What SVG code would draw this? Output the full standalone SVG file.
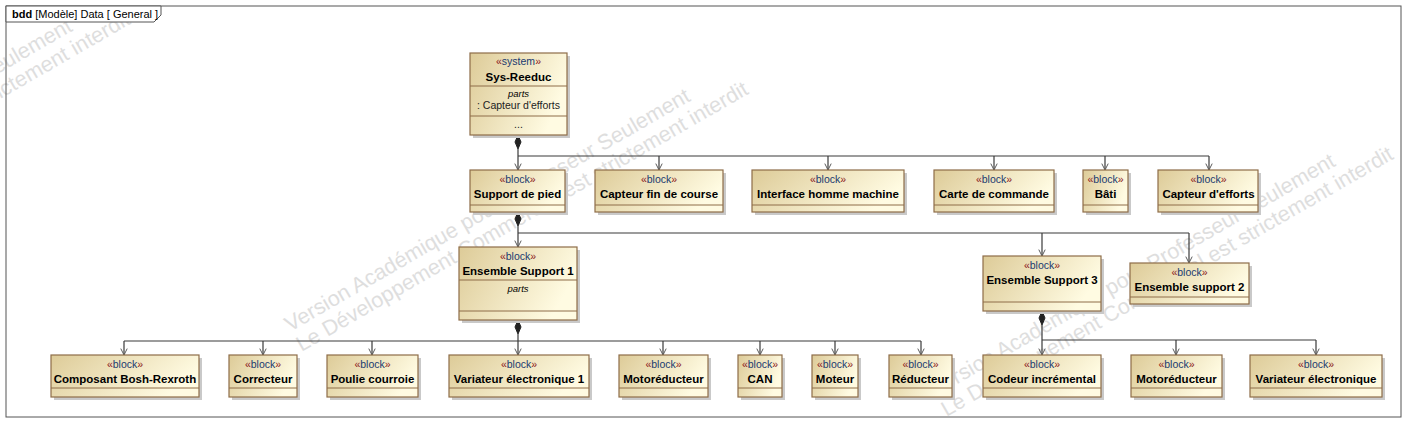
<svg xmlns="http://www.w3.org/2000/svg" width="1416" height="432" viewBox="0 0 1416 432">
<defs>
<linearGradient id="bg" x1="0" y1="0" x2="1" y2="0.35">
<stop offset="0" stop-color="#DDCB98"/>
<stop offset="1" stop-color="#FFFBE2"/>
</linearGradient>
<marker id="arr" viewBox="0 0 10 10" refX="9" refY="5" markerWidth="8" markerHeight="8" markerUnits="userSpaceOnUse" orient="auto">
<path d="M1,1 L9,5 L1,9" fill="none" stroke="#555" stroke-width="1.2"/>
</marker>
</defs>
<style>
text{font-family:"Liberation Sans",Arial,sans-serif;}
.wm{font-size:21.5px;fill:#dedede;}
.sh{fill:#c9c9c9;}
.bx{fill:url(#bg);stroke:#8E6D48;stroke-width:1.2;}
.sep{stroke:#8E6D48;stroke-width:1;}
.st{font-size:10.5px;text-anchor:middle;fill:#1a3a70;}
.gu{fill:#8B1A1A;}
.nm{font-size:11.5px;font-weight:bold;text-anchor:middle;fill:#000;}
.it{font-size:9.5px;font-style:italic;text-anchor:middle;fill:#000;}
.pt{font-size:10.5px;text-anchor:middle;fill:#222;}
.ln{fill:none;stroke:#3a3a3a;stroke-width:1.2;}
.ar{fill:none;stroke:#3a3a3a;stroke-width:1.2;marker-end:url(#arr);}
.dm{fill:#222;stroke:#222;stroke-width:1;}
</style>
<rect x="0" y="0" width="1416" height="432" fill="#fff"/>
<!-- watermarks -->
<g id="watermarks">
<g transform="translate(-328,262) rotate(-30)"><text class="wm" x="0" y="0">Version Académique pour Professeur Seulement</text><text class="wm" x="0" y="23">Le Développement Commercial est strictement interdit</text></g>
<g transform="translate(290,332) rotate(-30)"><text class="wm" x="0" y="0">Version Académique pour Professeur Seulement</text><text class="wm" x="0" y="23">Le Développement Commercial est strictement interdit</text></g>
<g transform="translate(935,397) rotate(-30)"><text class="wm" x="0" y="0">Version Académique pour Professeur Seulement</text><text class="wm" x="0" y="23">Le Développement Commercial est strictement interdit</text></g>
</g>
<!-- frame -->
<g id="frame">
<rect x="6" y="6" width="1395" height="411" fill="none" stroke="#555" stroke-width="1"/>
<path d="M6,6 L6,22 L154,22 L161,15 L161,6 Z" fill="#fff" stroke="#555" stroke-width="1"/>
<text x="12" y="18" font-size="11px" fill="#000"><tspan font-weight="bold">bdd</tspan> [Modèle] Data [ General ]</text>
</g>
<!-- connectors -->
<g id="connectors">
<path class="dm" d="M518,135 L521,142 L518,149 L515,142 Z"/>
<path class="ar" d="M518,149 L518,170"/>
<path class="ln" d="M518,156 L1209,156"/>
<path class="ar" d="M659,156 L659,170"/>
<path class="ar" d="M828,156 L828,170"/>
<path class="ar" d="M994,156 L994,170"/>
<path class="ar" d="M1105,156 L1105,170"/>
<path class="ar" d="M1209,156 L1209,170"/>
<path class="dm" d="M518,212 L521,219 L518,226 L515,219 Z"/>
<path class="ar" d="M518,226 L518,247"/>
<path class="ln" d="M518,233 L1189,233"/>
<path class="ar" d="M1042,233 L1042,256"/>
<path class="ar" d="M1189,233 L1189,263"/>
<path class="dm" d="M518,320 L521,327 L518,334 L515,327 Z"/>
<path class="ar" d="M518,334 L518,355"/>
<path class="ln" d="M124,341 L921,341"/>
<path class="ar" d="M124,341 L124,355"/>
<path class="ar" d="M263,341 L263,355"/>
<path class="ar" d="M372,341 L372,355"/>
<path class="ar" d="M663,341 L663,355"/>
<path class="ar" d="M760,341 L760,355"/>
<path class="ar" d="M835,341 L835,355"/>
<path class="ar" d="M921,341 L921,355"/>
<path class="dm" d="M1042,311 L1045,318 L1042,325 L1039,318 Z"/>
<path class="ar" d="M1042,325 L1042,355"/>
<path class="ln" d="M1042,340 L1316,340"/>
<path class="ar" d="M1176,340 L1176,355"/>
<path class="ar" d="M1316,340 L1316,355"/>
</g>
<!-- Sys-Reeduc -->
<g id="sys-reeduc">
<rect class="sh" x="473" y="56" width="97" height="82"/>
<rect class="bx" x="470" y="53" width="97" height="82"/>
<line class="sep" x1="470" y1="86" x2="567" y2="86"/>
<line class="sep" x1="470" y1="116" x2="567" y2="116"/>
<text class="st" x="518.5" y="65"><tspan class="gu">«</tspan>system<tspan class="gu">»</tspan></text>
<text class="nm" x="518.5" y="81">Sys-Reeduc</text>
<text class="it" x="518.5" y="97">parts</text>
<text class="pt" x="518.5" y="109">: Capteur d'efforts</text>
<text class="pt" x="518.5" y="128">...</text>
</g>
<!-- Row 2 -->
<g id="support-de-pied">
<rect class="sh" x="473" y="173" width="95" height="42"/>
<rect class="bx" x="470" y="170" width="95" height="42"/>
<line class="sep" x1="470" y1="205" x2="565" y2="205"/>
<text class="st" x="517.5" y="183"><tspan class="gu">«</tspan>block<tspan class="gu">»</tspan></text>
<text class="nm" x="517.5" y="198">Support de pied</text>
</g>
<g id="capteur-fin-de-course">
<rect class="sh" x="598" y="173" width="128" height="42"/>
<rect class="bx" x="595" y="170" width="128" height="42"/>
<line class="sep" x1="595" y1="205" x2="723" y2="205"/>
<text class="st" x="659" y="183"><tspan class="gu">«</tspan>block<tspan class="gu">»</tspan></text>
<text class="nm" x="659" y="198">Capteur fin de course</text>
</g>
<g id="interface-homme-machine">
<rect class="sh" x="755" y="173" width="152" height="42"/>
<rect class="bx" x="752" y="170" width="152" height="42"/>
<line class="sep" x1="752" y1="205" x2="904" y2="205"/>
<text class="st" x="828" y="183"><tspan class="gu">«</tspan>block<tspan class="gu">»</tspan></text>
<text class="nm" x="828" y="198">Interface homme machine</text>
</g>
<g id="carte-de-commande">
<rect class="sh" x="937" y="173" width="120" height="42"/>
<rect class="bx" x="934" y="170" width="120" height="42"/>
<line class="sep" x1="934" y1="205" x2="1054" y2="205"/>
<text class="st" x="994" y="183"><tspan class="gu">«</tspan>block<tspan class="gu">»</tspan></text>
<text class="nm" x="994" y="198">Carte de commande</text>
</g>
<g id="bati">
<rect class="sh" x="1086" y="173" width="45" height="42"/>
<rect class="bx" x="1083" y="170" width="45" height="42"/>
<line class="sep" x1="1083" y1="205" x2="1128" y2="205"/>
<text class="st" x="1105.5" y="183"><tspan class="gu">«</tspan>block<tspan class="gu">»</tspan></text>
<text class="nm" x="1105.5" y="198">Bâti</text>
</g>
<g id="capteur-d-efforts">
<rect class="sh" x="1161" y="173" width="100" height="42"/>
<rect class="bx" x="1158" y="170" width="100" height="42"/>
<line class="sep" x1="1158" y1="205" x2="1258" y2="205"/>
<text class="st" x="1208.5" y="183"><tspan class="gu">«</tspan>block<tspan class="gu">»</tspan></text>
<text class="nm" x="1208.5" y="198">Capteur d'efforts</text>
</g>
<!-- Row 3 -->
<g id="ensemble-support-1">
<rect class="sh" x="462" y="250" width="118" height="73"/>
<rect class="bx" x="459" y="247" width="118" height="73"/>
<line class="sep" x1="459" y1="280" x2="577" y2="280"/>
<line class="sep" x1="459" y1="311" x2="577" y2="311"/>
<text class="st" x="518" y="260"><tspan class="gu">«</tspan>block<tspan class="gu">»</tspan></text>
<text class="nm" x="518" y="275">Ensemble Support 1</text>
<text class="it" x="518" y="292">parts</text>
</g>
<g id="ensemble-support-3">
<rect class="sh" x="986" y="259" width="118" height="55"/>
<rect class="bx" x="983" y="256" width="118" height="55"/>
<line class="sep" x1="983" y1="302" x2="1101" y2="302"/>
<text class="st" x="1042" y="269"><tspan class="gu">«</tspan>block<tspan class="gu">»</tspan></text>
<text class="nm" x="1042" y="284">Ensemble Support 3</text>
</g>
<g id="ensemble-support-2">
<rect class="sh" x="1133" y="266" width="119" height="41"/>
<rect class="bx" x="1130" y="263" width="119" height="41"/>
<line class="sep" x1="1130" y1="297" x2="1249" y2="297"/>
<text class="st" x="1189.5" y="276"><tspan class="gu">«</tspan>block<tspan class="gu">»</tspan></text>
<text class="nm" x="1189.5" y="291">Ensemble support 2</text>
</g>
<!-- Row 4 -->
<g id="composant-bosh-rexroth">
<rect class="sh" x="54" y="358" width="148" height="42"/>
<rect class="bx" x="51" y="355" width="148" height="42"/>
<line class="sep" x1="51" y1="388" x2="199" y2="388"/>
<text class="st" x="125" y="368"><tspan class="gu">«</tspan>block<tspan class="gu">»</tspan></text>
<text class="nm" x="125" y="383">Composant Bosh-Rexroth</text>
</g>
<g id="correcteur">
<rect class="sh" x="232" y="358" width="68" height="42"/>
<rect class="bx" x="229" y="355" width="68" height="42"/>
<line class="sep" x1="229" y1="388" x2="297" y2="388"/>
<text class="st" x="263" y="368"><tspan class="gu">«</tspan>block<tspan class="gu">»</tspan></text>
<text class="nm" x="263" y="383">Correcteur</text>
</g>
<g id="poulie-courroie">
<rect class="sh" x="330" y="358" width="91" height="42"/>
<rect class="bx" x="327" y="355" width="91" height="42"/>
<line class="sep" x1="327" y1="388" x2="418" y2="388"/>
<text class="st" x="372.5" y="368"><tspan class="gu">«</tspan>block<tspan class="gu">»</tspan></text>
<text class="nm" x="372.5" y="383">Poulie courroie</text>
</g>
<g id="variateur-electronique-1">
<rect class="sh" x="452" y="358" width="140" height="42"/>
<rect class="bx" x="449" y="355" width="140" height="42"/>
<line class="sep" x1="449" y1="388" x2="589" y2="388"/>
<text class="st" x="519" y="368"><tspan class="gu">«</tspan>block<tspan class="gu">»</tspan></text>
<text class="nm" x="519" y="383">Variateur électronique 1</text>
</g>
<g id="motoreducteur-1">
<rect class="sh" x="622" y="358" width="89" height="42"/>
<rect class="bx" x="619" y="355" width="89" height="42"/>
<line class="sep" x1="619" y1="388" x2="708" y2="388"/>
<text class="st" x="663.5" y="368"><tspan class="gu">«</tspan>block<tspan class="gu">»</tspan></text>
<text class="nm" x="663.5" y="383">Motoréducteur</text>
</g>
<g id="can">
<rect class="sh" x="741" y="358" width="44" height="42"/>
<rect class="bx" x="738" y="355" width="44" height="42"/>
<line class="sep" x1="738" y1="388" x2="782" y2="388"/>
<text class="st" x="760" y="368"><tspan class="gu">«</tspan>block<tspan class="gu">»</tspan></text>
<text class="nm" x="760" y="383">CAN</text>
</g>
<g id="moteur">
<rect class="sh" x="815" y="358" width="46" height="42"/>
<rect class="bx" x="812" y="355" width="46" height="42"/>
<line class="sep" x1="812" y1="388" x2="858" y2="388"/>
<text class="st" x="835" y="368"><tspan class="gu">«</tspan>block<tspan class="gu">»</tspan></text>
<text class="nm" x="835" y="383">Moteur</text>
</g>
<g id="reducteur">
<rect class="sh" x="892" y="358" width="63" height="42"/>
<rect class="bx" x="889" y="355" width="63" height="42"/>
<line class="sep" x1="889" y1="388" x2="952" y2="388"/>
<text class="st" x="920.5" y="368"><tspan class="gu">«</tspan>block<tspan class="gu">»</tspan></text>
<text class="nm" x="920.5" y="383">Réducteur</text>
</g>
<g id="codeur-incremental">
<rect class="sh" x="986" y="358" width="118" height="42"/>
<rect class="bx" x="983" y="355" width="118" height="42"/>
<line class="sep" x1="983" y1="388" x2="1101" y2="388"/>
<text class="st" x="1042" y="368"><tspan class="gu">«</tspan>block<tspan class="gu">»</tspan></text>
<text class="nm" x="1042" y="383">Codeur incrémental</text>
</g>
<g id="motoreducteur-2">
<rect class="sh" x="1134" y="358" width="91" height="42"/>
<rect class="bx" x="1131" y="355" width="91" height="42"/>
<line class="sep" x1="1131" y1="388" x2="1222" y2="388"/>
<text class="st" x="1176.5" y="368"><tspan class="gu">«</tspan>block<tspan class="gu">»</tspan></text>
<text class="nm" x="1176.5" y="383">Motoréducteur</text>
</g>
<g id="variateur-electronique">
<rect class="sh" x="1253" y="358" width="132" height="42"/>
<rect class="bx" x="1250" y="355" width="132" height="42"/>
<line class="sep" x1="1250" y1="388" x2="1382" y2="388"/>
<text class="st" x="1316" y="368"><tspan class="gu">«</tspan>block<tspan class="gu">»</tspan></text>
<text class="nm" x="1316" y="383">Variateur électronique</text>
</g>
</svg>
